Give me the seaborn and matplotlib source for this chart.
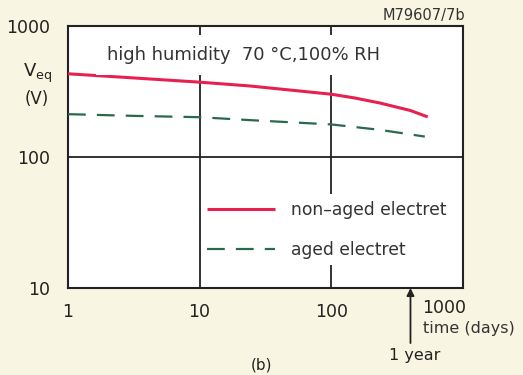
import matplotlib
matplotlib.use("Agg")
import matplotlib.pyplot as plt
import seaborn as sns
import pandas as pd

# data
days_nonaged = [1, 3, 10, 24, 100, 150, 234, 400, 541]
veq_nonaged = [431, 402, 372, 348, 301, 282, 258, 226, 202]
days_aged = [1, 3, 10, 24, 100, 234, 514]
veq_aged = [212, 206, 201, 191, 177, 161, 143]
label_nonaged = "non\u2013aged electret"
label_aged = "aged electret"
x_ticks = [1, 10, 100, 1000]
x_ticklabels = ["1", "10", "100", ""]
y_ticks = [10, 100, 1000]
y_ticklabels = ["10", "100", "1000"]

sns.set_style("white")
plt.rcParams["font.family"] = ["DejaVu Sans"]

df1 = pd.DataFrame({"days": days_nonaged, "veq": veq_nonaged})
df2 = pd.DataFrame({"days": days_aged, "veq": veq_aged})

fig = plt.figure(figsize=(5.23, 3.75), dpi=100, facecolor="#f8f6e2")
ax = fig.add_axes([0.130, 0.232, 0.755, 0.699])
ax.set_facecolor("white")

red = "#e8204f"
green = "#2a6a4c"
sns.lineplot(data=df1, x="days", y="veq", ax=ax, color=red, lw=2.2,
             label=label_nonaged, zorder=3)
sns.lineplot(data=df2, x="days", y="veq", ax=ax, color=green, lw=1.6,
             dashes=False, label=label_aged, zorder=3)
ax.lines[0].set_solid_capstyle("butt")
ax.lines[1].set_dashes([8, 5])

ax.set_xscale("log")
ax.set_yscale("log")
ax.set_xlim(1, 1000)
ax.set_ylim(10, 1000)

# grid lines
ax.axvline(10, color="#222222", lw=1.3, zorder=2)
ax.axvline(100, color="#222222", lw=1.3, zorder=1)
ax.axhline(100, color="#222222", lw=1.3, zorder=1)

for s in ax.spines.values():
    s.set_color("#222222")
    s.set_linewidth(1.5)

ax.set_xticks(x_ticks)
ax.set_xticklabels(x_ticklabels)
ax.set_yticks(y_ticks)
ax.set_yticklabels(y_ticklabels)
ax.minorticks_off()
ax.tick_params(axis="both", length=0, labelsize=12.5, colors="#222222", pad=11)
ax.tick_params(axis="y", pad=13)
ax.set_xlabel("")
ax.set_ylabel("")

ax.text(0.1, 0.89, "high humidity  70 \u00b0C,100% RH", transform=ax.transAxes,
        fontsize=12.9, color="#333333", va="center", ha="left", zorder=4,
        bbox=dict(facecolor="white", edgecolor="none", pad=8))

leg = ax.legend(loc="upper left", bbox_to_anchor=(0.313, 0.39), frameon=True,
                fontsize=12.3, handlelength=4.0, handletextpad=0.9,
                labelspacing=1.25, borderpad=0.4)
leg.get_frame().set_facecolor("white")
leg.get_frame().set_edgecolor("none")
leg.get_frame().set_alpha(1)
leg.set_zorder(1.5)
for t in leg.get_texts():
    t.set_color("#333333")

fig.text(0.072, 0.805, "V$_{\\mathregular{eq}}$", fontsize=13, ha="center", va="center", color="#222222")
fig.text(0.071, 0.735, "(V)", fontsize=12, ha="center", va="center", color="#222222")
fig.text(0.889, 0.958, "M79607/7b", fontsize=10.5, ha="right", va="center", color="#333333")
fig.text(0.808, 0.178, "1000", fontsize=12.5, ha="left", va="center", color="#222222")
fig.text(0.808, 0.125, "time (days)", fontsize=11.5, ha="left", va="center", color="#333333")
fig.text(0.792, 0.053, "1 year", fontsize=11.5, ha="center", va="center", color="#222222")
fig.text(0.50, 0.026, "(b)", fontsize=11, ha="center", va="center", color="#222222")
ax.annotate("", xy=(400, 0.0), xycoords=ax.get_xaxis_transform(),
            xytext=(400, -0.21), textcoords=ax.get_xaxis_transform(),
            arrowprops=dict(arrowstyle="-|>", color="#222222", lw=1.3,
                            mutation_scale=11, shrinkA=0, shrinkB=0),
            annotation_clip=False)

fig.savefig("out.png", dpi=100, facecolor=fig.get_facecolor())
